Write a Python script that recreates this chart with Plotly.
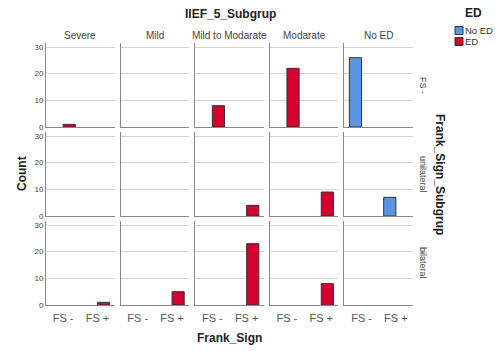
import plotly.graph_objects as go
from plotly.subplots import make_subplots

subgroups = ["Severe", "Mild", "Mild to Modarate", "Modarate", "No ED"]
frank_rows = ["FS -", "unilateral", "bilateral"]
fs_cats = ["FS -", "FS +"]
row_fs = ["FS -", "FS +", "FS +"]
ed_counts = [[1, 0, 8, 22, 0],
             [0, 0, 4, 9, 0],
             [1, 5, 23, 8, 0]]
no_ed_counts = [[0, 0, 0, 0, 26],
                [0, 0, 0, 0, 7],
                [0, 0, 0, 0, 0]]
y_ticks = [0, 10, 20, 30]
legend_names = ["No ED", "ED"]

BLUE = "#5a95e0"
RED = "#d5002f"
FONT = "Arial"

W, H = 500, 353
ML, MR, MT, MB = 46, 87, 43, 48
PW, PH = W - ML - MR, H - MT - MB


def px_x(px):
    return (px - ML) / PW


def px_y(py):
    return 1 - (py - MT) / PH


fig = make_subplots(rows=3, cols=5, horizontal_spacing=6 / PW, vertical_spacing=5 / PH)

colors = {"No ED": BLUE, "ED": RED}
for r in range(3):
    for c in range(5):
        for name, counts in [("No ED", no_ed_counts), ("ED", ed_counts)]:
            v = counts[r][c]
            fig.add_trace(go.Bar(
                x=[row_fs[r]], y=[v if v else None], name=name, legendgroup=name,
                showlegend=False,
                marker=dict(color=colors[name], line=dict(color="#333333", width=1)),
                hoverinfo="skip"),
                row=r + 1, col=c + 1)

fig.update_xaxes(type="category", categoryorder="array", categoryarray=fs_cats,
                 range=[-0.5, 1.5], showline=True, linecolor="#888888", linewidth=1,
                 showgrid=False, zeroline=False, showticklabels=False,
                 tickfont=dict(family=FONT, size=11, color="#555555"),
                 ticks="outside", ticklen=3, tickcolor="rgba(0,0,0,0)")
for c in range(5):
    fig.update_xaxes(showticklabels=True, row=3, col=c + 1)

fig.update_yaxes(range=[0, 31.5], tickvals=y_ticks, showgrid=True, gridcolor="#d4d4d4",
                 gridwidth=1, showline=True, linecolor="#888888", linewidth=1,
                 zeroline=False, showticklabels=False,
                 tickfont=dict(family=FONT, size=8, color="#444444"))
for r in range(3):
    fig.update_yaxes(showticklabels=True, row=r + 1, col=1)

annotations = []
shapes = []
# column strip labels
for c in range(5):
    xa = fig.layout["xaxis" + ("" if c == 0 else str(c + 1))]
    d = xa.domain
    annotations.append(dict(text=subgroups[c], x=(d[0] + d[1]) / 2, y=px_y(36), xref="paper", yref="paper",
                            xanchor="center", yanchor="middle", showarrow=False,
                            font=dict(family=FONT, size=10, color="#444444")))
# row strip labels
for r in range(3):
    ya = fig.layout["yaxis" + ("" if r == 0 else str(r * 5 + 1))]
    d = ya.domain
    annotations.append(dict(text=frank_rows[r], x=1, y=(d[0] + d[1]) / 2, xref="paper", yref="paper",
                            xanchor="left", yanchor="middle", xshift=3, showarrow=False, textangle=90,
                            font=dict(family=FONT, size=9, color="#444444")))
annotations.append(dict(text="<b>IIEF_5_Subgrup</b>", x=px_x(230), y=px_y(14), xref="paper", yref="paper",
                        xanchor="center", yanchor="middle", showarrow=False,
                        font=dict(family=FONT, size=12, color="#222222")))
annotations.append(dict(text="<b>Frank_Sign_Subgrup</b>", x=px_x(440), y=0.5, xref="paper", yref="paper",
                        xanchor="center", yanchor="middle", showarrow=False,
                        textangle=90, font=dict(family=FONT, size=12, color="#222222")))
annotations.append(dict(text="<b>Count</b>", x=px_x(22), y=0.5, xref="paper", yref="paper",
                        xanchor="center", yanchor="middle", showarrow=False,
                        textangle=-90, font=dict(family=FONT, size=12, color="#222222")))
annotations.append(dict(text="<b>Frank_Sign</b>", x=0.5, y=px_y(338), xref="paper", yref="paper",
                        xanchor="center", yanchor="middle", showarrow=False,
                        font=dict(family=FONT, size=12, color="#222222")))

# legend (drawn as shapes + text)
annotations.append(dict(text="<b>ED</b>", x=px_x(473), y=px_y(13), xref="paper", yref="paper",
                        xanchor="center", yanchor="middle", showarrow=False,
                        font=dict(family=FONT, size=12, color="#222222")))
for i, name in enumerate(legend_names):
    top = 26.5 + i * 11
    shapes.append(dict(type="rect", xref="paper", yref="paper",
                       x0=px_x(455), x1=px_x(463), y0=px_y(top), y1=px_y(top + 8),
                       fillcolor=colors[name], line=dict(color="#333333", width=1)))
    annotations.append(dict(text=name, x=px_x(464), y=px_y(top + 4.3), xref="paper", yref="paper",
                            xanchor="left", yanchor="middle", showarrow=False, borderpad=0,
                            font=dict(family=FONT, size=9.5, color="#333333")))

fig.update_layout(
    width=W, height=H, margin=dict(l=ML, r=MR, t=MT, b=MB),
    paper_bgcolor="white", plot_bgcolor="white",
    barmode="group", bargap=0.29, bargroupgap=0,
    annotations=annotations, shapes=shapes, showlegend=False,
    font=dict(family=FONT, size=10, color="#333333"),
)

fig.write_html("out.html")
